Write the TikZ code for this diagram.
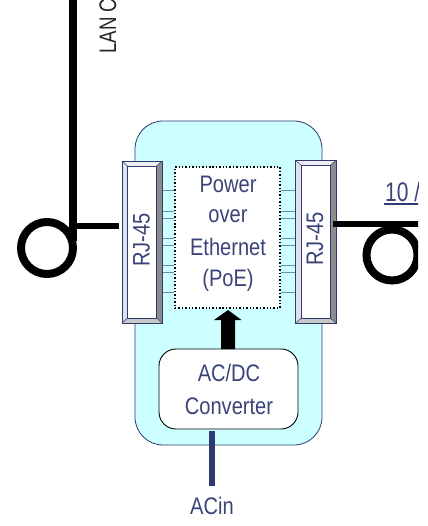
\documentclass[tikz,border=0pt]{standalone}
\usepackage{fontspec}
\setmainfont[FakeStretch=0.84]{Liberation Sans}
\newfontfamily\tallfont[FakeStretch=0.78]{Liberation Sans}
\usetikzlibrary{calc}
\definecolor{navy}{HTML}{2F3A70}
\definecolor{txt}{HTML}{3A4478}
\definecolor{bodyfill}{HTML}{CCFFFF}
\definecolor{tickc}{HTML}{6F8CA0}
\tikzset{
  label/.style={text=txt,font=\fontsize{24}{26}\selectfont,inner sep=0pt},
  bodybox/.style={draw=navy,line width=.8bp,fill=bodyfill,rounded corners=28bp,inner sep=0pt,minimum width=187bp,minimum height=324bp},
  conv/.style={draw=black,line width=.9bp,fill=white,rounded corners=17bp,inner sep=0pt,minimum width=139bp,minimum height=80bp},
  poe/.style={draw=black,line width=1.4bp,dotted,fill=white,inner sep=0pt,minimum width=105bp,minimum height=141bp},
  cable/.style={draw=black,line width=6.5bp},
  loopc/.style={draw=black,line width=8bp},
  pin/.style={draw=tickc,line width=1bp},
  edge/.style={draw=navy,line width=.8bp,line join=miter},
}
\newcommand{\rjconn}[6]{% name, x0,x1,y0,y1 , bevel
  \coordinate (#1nw) at (#2,#4); \coordinate (#1se) at (#3,#5);
  \fill[white] (#2,#4) rectangle (#3,#5);
  \fill[white!92!navy] (#2,#4) -- (#2+#6,#4+5) -- (#3-#6,#4+5) -- (#3,#4) -- cycle;
  \fill[black!45] (#3,#4) -- (#3-#6,#4+5) -- (#3-#6,#5-5) -- (#3,#5) -- cycle;
  \fill[black!22] (#2,#5) -- (#2+#6,#5-5) -- (#3-#6,#5-5) -- (#3,#5) -- cycle;
  \fill[white!85!navy] (#2,#4) -- (#2+#6,#4+5) -- (#2+#6,#5-5) -- (#2,#5) -- cycle;
  \draw[edge] (#2,#4) rectangle (#3,#5);
  \draw[edge] (#2+#6,#4+5) rectangle (#3-#6,#5-5);
  \draw[edge,line width=.5bp] (#2,#4) -- (#2+#6,#4+5) (#3,#4) -- (#3-#6,#4+5) (#2,#5) -- (#2+#6,#5-5) (#3,#5) -- (#3-#6,#5-5);
}
\begin{document}
\begin{tikzpicture}[x=1bp,y=-1bp]
\useasboundingbox (0,0) rectangle (427,526);
\clip (0,0) rectangle (418,526);
% body
\node[bodybox] (body) at (228.5,283) {};
% PoE box
\node[poe] (poe) at (227.5,237.5) {};
% pins
\foreach \y [count=\i] in {191,211,218,238,245,265,272,292}{
  \coordinate (pl\i) at (162,\y); \coordinate (pr\i) at (295,\y);
  \draw[pin] (pl\i) -- (poe.west |- pl\i);
  \draw[pin] (poe.east |- pr\i) -- (pr\i);
}
% RJ-45 connectors
\rjconn{rl}{122}{162}{161}{323}{5.5}
\rjconn{rr}{295.5}{336}{160.5}{323}{6}
\node[label,rotate=90] (rjl) at (141.5,240) {RJ-45};
\node[label,rotate=90] (rjr) at (315,239) {RJ-45};
% PoE text
\node[label] (t1) at (228,184) {Power};
\node[label] (t2) at (228,216) {over};
\node[label] (t3) at (228,247) {Ethernet};
\node[label] (t4) at (228,280) {(PoE)};
% converter
\node[conv] (conv) at (228.5,389) {};
\node[label] (c1) at (229,373) {AC/DC};
\node[label] (c2) at (229,406) {Converter};
% arrow
\coordinate (ab) at (228,349);
\coordinate (at) at (228,310);
\fill[black] (ab) ++(-7,0) -- ++(0,-29) -- ++(-7,0) -- (at) -- ++(13.5,10) -- ++(-6.5,0) -- ++(0,29) -- cycle;
% AC in
\node[label] (acin) at (212,506) {ACin};
\coordinate (acs) at (212,431);
\coordinate (ace) at (212,486);
\draw[navy,line width=6bp] (acs) -- (ace);
% left cable
\node[circle,loopc,inner sep=0pt,minimum size=52bp] (lc) at (47,248) {};
\coordinate (lt) at (72.5,-2);
\coordinate (lb) at (72.5,241);
\coordinate (lj) at (72,226);
\coordinate (lk) at (119,226);
\draw[black,line width=8bp] (lt) -- (lb);
\draw[cable] (lj) -- (lk);
% right cable
\node[circle,loopc,inner sep=0pt,minimum size=51bp] (rc) at (392,255) {};
\coordinate (rs) at (333,224);
\coordinate (re) at (420,224);
\draw[cable] (rs) -- (re);
% labels
\node[rotate=90,anchor=west,inner sep=0pt,text=black!85,font=\tallfont\fontsize{24}{26}\selectfont] (lan) at (108,54) {LAN C};
\node[label,anchor=west,font=\tallfont\fontsize{27}{29}\selectfont] (ten) at (385,192) {10 /};
\coordinate (ul) at (384,204);
\coordinate (ur) at (420,204);
\draw[navy,line width=1.2bp] (ul) -- (ur);
\end{tikzpicture}
\end{document}
